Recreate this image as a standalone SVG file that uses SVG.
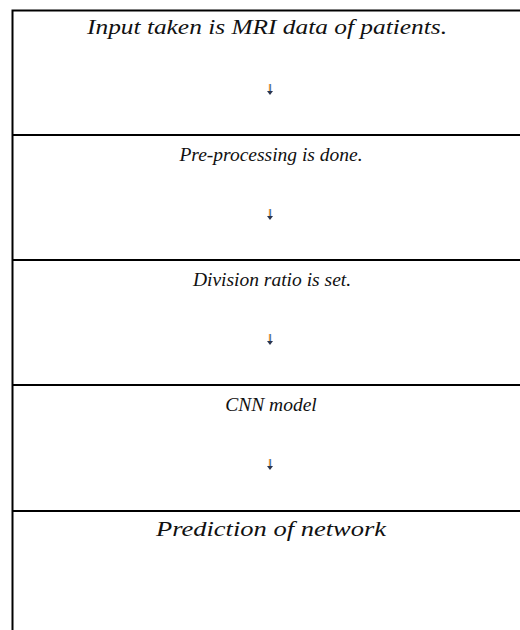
<svg xmlns="http://www.w3.org/2000/svg" width="520" height="630" viewBox="0 0 520 630">
<style>
.t{font-family:"Liberation Serif","Times New Roman",serif;font-style:italic;fill:#111;text-anchor:middle}
.big{font-size:21px}
.mid{font-size:19.5px}
.ln{stroke:#000;stroke-width:2;fill:none}
.ao{stroke:#f0a040;stroke-width:1.2;fill:none}
.ab{stroke:#4a86d0;stroke-width:1.2;fill:none}
.ah{fill:#2a3550}
</style>
<defs>
<g id="arrow"><path class="ao" d="M-0.6 0 V8"/><path class="ab" d="M0.6 0 V8"/><path class="ah" d="M-3 7 H3 L0 11 Z"/></g>
</defs>
<rect width="520" height="630" fill="#fff"/>
<g id="frame">
<path class="ln" d="M12.5 630 V10.5 H520"/>
</g>
<g id="n1"><text class="t big" x="267" y="34" textLength="360" lengthAdjust="spacingAndGlyphs">Input taken is MRI data of patients.</text></g>
<g id="n2"><path class="ln" d="M12 135 H520"/><text class="t mid" x="271" y="161">Pre-processing is done.</text></g>
<g id="n3"><path class="ln" d="M12 260 H520"/><text class="t mid" x="272" y="286">Division ratio is set.</text></g>
<g id="n4"><path class="ln" d="M12 385 H520"/><text class="t mid" x="271" y="411">CNN model</text></g>
<g id="n5"><path class="ln" d="M12 511 H520"/><text class="t big" x="271" y="536" textLength="230" lengthAdjust="spacingAndGlyphs">Prediction of network</text></g>
<g id="connectors">
<use href="#arrow" x="270" y="84"/>
<use href="#arrow" x="270" y="209"/>
<use href="#arrow" x="270" y="334"/>
<use href="#arrow" x="270" y="459"/>
</g>
</svg>
